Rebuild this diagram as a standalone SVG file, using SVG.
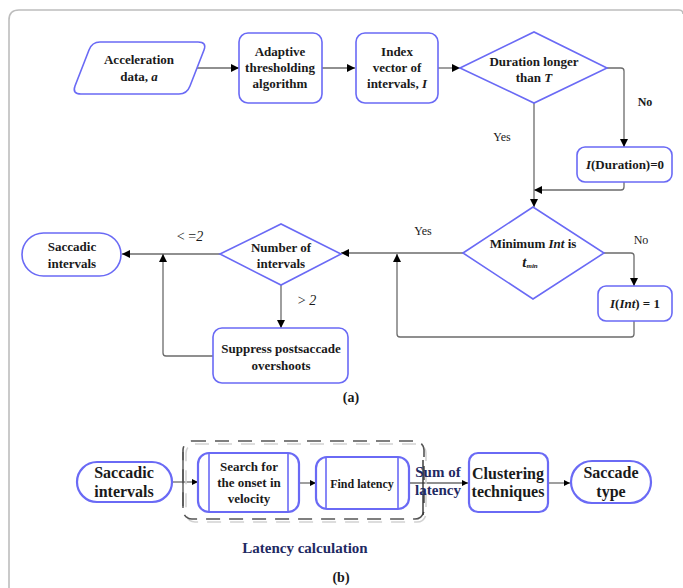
<svg xmlns="http://www.w3.org/2000/svg" width="683" height="588" viewBox="0 0 683 588">
<defs>
<marker id="ah" viewBox="0 0 10 10" refX="10" refY="5" markerWidth="8" markerHeight="8" markerUnits="userSpaceOnUse" orient="auto">
<path d="M0,0 L10,5 L0,10 z" fill="#000"/>
</marker>
<marker id="ahs" viewBox="0 0 10 10" refX="10" refY="5" markerWidth="6" markerHeight="6" markerUnits="userSpaceOnUse" orient="auto">
<path d="M0,0 L10,5 L0,10 z" fill="#000"/>
</marker>
</defs>
<style>
.bx{fill:#fff;stroke:#6a6af5;stroke-width:1.6}
.bx2{fill:#fff;stroke:#6a6af5;stroke-width:2.2}
.ln{fill:none;stroke:#6b6b6b;stroke-width:1.3}
text{font-family:'Liberation Serif','DejaVu Serif','Noto Serif',serif}
.t{font-weight:bold;font-size:13px;fill:#1a1a1a;text-anchor:middle}
.tb{font-weight:bold;font-size:16px;fill:#1a1a1a;text-anchor:middle}
.lb{font-size:12px;fill:#1a1a1a;text-anchor:middle}
.bl{font-weight:bold;font-size:15px;fill:#1f2a63;text-anchor:middle}
.i{font-style:italic}
</style>
<rect width="683" height="588" fill="#fff"/>
<path d="M9,588 V20 Q9,10 19,10 H679 Q683,10 683,14" fill="none" stroke="#bdbdbd" stroke-width="1.6"/>

<g id="connectors">
<path class="ln" d="M197,68 H239" marker-end="url(#ah)"/>
<path class="ln" d="M322,68 H355" marker-end="url(#ah)"/>
<path class="ln" d="M438,68 H460" marker-end="url(#ah)"/>
<path class="ln" d="M607,68 H621 Q624,68 624,71 V147" marker-end="url(#ah)"/>
<path class="ln" d="M624,182 V187 Q624,190 621,190 H534" marker-end="url(#ah)"/>
<path class="ln" d="M534,103 V207" marker-end="url(#ah)"/>
<path class="ln" d="M604,253 H631 Q634,253 634,256 V286" marker-end="url(#ah)"/>
<path class="ln" d="M634,321 V334 Q634,337 631,337 H400 Q397,337 397,334 V254" marker-end="url(#ah)"/>
<path class="ln" d="M463,253 H341" marker-end="url(#ah)"/>
<path class="ln" d="M220,254 H122" marker-end="url(#ah)"/>
<path class="ln" d="M281,285 V328" marker-end="url(#ah)"/>
<path class="ln" d="M213,356 H166 Q163,356 163,353 V254" marker-end="url(#ah)"/>
<path class="ln" d="M172,482 H198" marker-end="url(#ahs)"/>
<path class="ln" d="M299,483 H316" marker-end="url(#ahs)"/>
<path class="ln" d="M409,483 H468" marker-end="url(#ahs)"/>
<path class="ln" d="M548,483 H570" marker-end="url(#ahs)"/>
<text class="lb" x="645" y="106" font-weight="bold">No</text>
<text class="lb" x="502" y="141">Yes</text>
<text class="lb" x="641" y="244">No</text>
<text class="lb" x="423" y="235">Yes</text>
<text class="lb" x="190" y="241" style="font-size:14px">&lt; =<tspan class="i">2</tspan></text>
<text class="lb" x="307" y="305" style="font-size:14px">&gt; <tspan class="i">2</tspan></text>
</g>

<g id="acceleration">
<path class="bx" d="M100,42 H198 Q207,42 204,50 L190,86 Q187,94 179,94 H81 Q72,94 75,86 L89,50 Q92,42 100,42 z"/>
<text class="t" x="139" y="64">Acceleration</text>
<text class="t" x="139" y="81">data, <tspan class="i">a</tspan></text>
</g>

<g id="adaptive">
<rect class="bx" x="239" y="33" width="83" height="70" rx="9"/>
<text class="t" x="280" y="56">Adaptive</text>
<text class="t" x="280" y="72">thresholding</text>
<text class="t" x="280" y="88">algorithm</text>
</g>

<g id="index">
<rect class="bx" x="356" y="33" width="82" height="70" rx="9"/>
<text class="t" x="397" y="56">Index</text>
<text class="t" x="397" y="72">vector of</text>
<text class="t" x="397" y="88">intervals, <tspan class="i">I</tspan></text>
</g>

<g id="duration">
<polygon class="bx" points="460,68 534,32 607,68 534,103"/>
<text class="t" x="534" y="66">Duration longer</text>
<text class="t" x="534" y="82">than <tspan class="i">T</tspan></text>
</g>

<g id="durzero">
<rect class="bx" x="577" y="147" width="95" height="35" rx="8"/>
<text class="t" x="625" y="169"><tspan class="i">I</tspan>(Duration)=0</text>
</g>

<g id="minimum">
<polygon class="bx" points="463,253 533,207 604,253 533,299"/>
<text class="t" x="533" y="248">Minimum  <tspan class="i">Int</tspan>  is</text>
<text class="t" x="530" y="267"><tspan class="i" style="font-size:15px">t</tspan><tspan class="i" style="font-size:7px" dy="1">min</tspan></text>
</g>

<g id="intone">
<rect class="bx" x="598" y="286" width="74" height="35" rx="8"/>
<text class="t" x="635" y="308"><tspan class="i">I</tspan>(<tspan class="i">Int</tspan>) = 1</text>
</g>

<g id="number">
<polygon class="bx" points="220,254 281,224 341,254 281,285"/>
<text class="t" x="281" y="252">Number of</text>
<text class="t" x="281" y="268">intervals</text>
</g>

<g id="saccadicA">
<rect class="bx" x="22" y="233" width="99" height="43" rx="21.5"/>
<text class="t" x="72" y="251">Saccadic</text>
<text class="t" x="72" y="268">intervals</text>
</g>

<g id="suppress">
<rect class="bx" x="213" y="328" width="135" height="55" rx="9"/>
<text class="t" x="281" y="353">Suppress postsaccade</text>
<text class="t" x="281" y="370">overshoots</text>
</g>

<text class="t" x="351" y="402" style="font-size:14px">(a)</text>

<g id="latencygroup">
<rect x="186" y="444" width="240" height="78" rx="9" fill="none" stroke="#d2d2d2" stroke-width="1.6" stroke-dasharray="14,9"/>
<rect x="183" y="441" width="241" height="78" rx="9" fill="none" stroke="#555" stroke-width="1.6" stroke-dasharray="14,9"/>
<path d="M183,452 V508" fill="none" stroke="#555" stroke-width="1.4"/>
<path d="M423,460 V515" fill="none" stroke="#333" stroke-width="1.4"/>
<text class="bl" x="305" y="553">Latency calculation</text>
</g>

<g id="saccadicB">
<rect class="bx2" x="77" y="462" width="95" height="40" rx="20"/>
<text class="tb" x="124" y="478">Saccadic</text>
<text class="tb" x="124" y="497">intervals</text>
</g>

<g id="search">
<rect class="bx2" x="198" y="453" width="101" height="59" rx="11"/>
<path d="M209,453 V512 M288,453 V512" stroke="#6a6af5" stroke-width="1.6"/>
<text class="t" x="249" y="471">Search for</text>
<text class="t" x="249" y="487">the onset in</text>
<text class="t" x="249" y="503">velocity</text>
</g>

<g id="findlatency">
<rect class="bx2" x="316" y="457" width="93" height="52" rx="11"/>
<path d="M326,457 V509 M398,457 V509" stroke="#6a6af5" stroke-width="1.6"/>
<text class="t" x="362" y="488" style="font-size:12px">Find latency</text>
</g>

<text class="bl" x="438" y="477">Sum of</text>
<text class="bl" x="438" y="495">latency</text>

<g id="clustering">
<rect class="bx2" x="469" y="453" width="79" height="59" rx="9"/>
<text class="tb" x="508" y="479">Clustering</text>
<text class="tb" x="508" y="497">techniques</text>
</g>

<g id="saccadetype">
<rect class="bx2" x="571" y="461" width="80" height="42" rx="21"/>
<text class="tb" x="611" y="478">Saccade</text>
<text class="tb" x="611" y="497">type</text>
</g>

<text class="t" x="341" y="582" style="font-size:14px">(b)</text>
</svg>
